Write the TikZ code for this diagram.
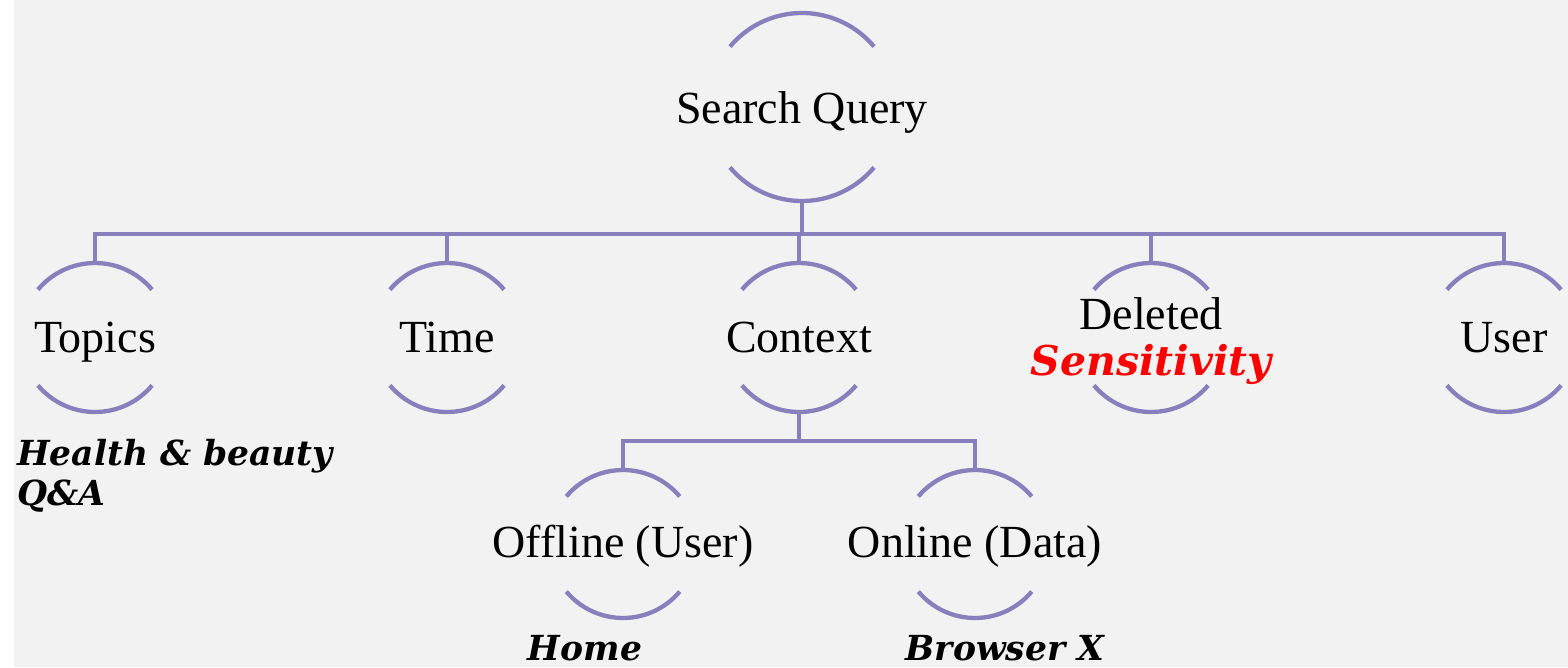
\documentclass[tikz,border=0pt]{standalone}
\usepackage{fontspec}
\setmainfont{Liberation Serif}
\newfontfamily\notefont{DejaVu Serif}
\definecolor{bg}{HTML}{F2F2F2}
\definecolor{arcline}{HTML}{8780BD}
\newcommand\ringarcs[2]{%
  \draw[link] (#1.140) arc[start angle=140,end angle=40,radius=#2pt];
  \draw[link] (#1.220) arc[start angle=220,end angle=320,radius=#2pt];}
\begin{document}
\begin{tikzpicture}[x=1pt,y=-1pt,
  ring/.style={circle,draw=none,inner sep=0pt,outer sep=0pt,minimum size=#1},
  ring/.default=149,
  link/.style={draw=arcline,line width=4.3pt},
  lbl/.style={anchor=base,inner sep=0pt,font=\fontsize{46}{54}\selectfont},
  notestyle/.style={inner sep=0pt,font=\fontsize{34.5}{42}\selectfont\notefont\bfseries\itshape},
]
% background
\fill[white] (0,0) rectangle (1568,667);
\fill[bg] (14,0) rectangle (1568,667);
\useasboundingbox (0,0) rectangle (1568,667);

% ring shapes
\node[ring=188] (sq) at (802,107) {};
\node[ring] (topics) at (95,337.5) {};
\node[ring] (time) at (447,337.5) {};
\node[ring] (context) at (799,337.5) {};
\node[ring] (deleted) at (1151,337.5) {};
\node[ring] (user) at (1504,337.5) {};
\node[ring=148] (offline) at (623,544) {};
\node[ring=148] (online) at (975,544) {};

\ringarcs{sq}{94}
\foreach \n in {topics,time,context,deleted,user}{\ringarcs{\n}{74.5}}
\ringarcs{offline}{74}
\ringarcs{online}{74}

% tree connectors
\coordinate (bus) at (0,234);
\draw[link] (sq.south) -- (sq.south |- bus);
\draw[link] (topics.north) -- (topics.north |- bus) -- (user.north |- bus) -- (user.north);
\foreach \n in {time,context,deleted}{\draw[link] (\n.north |- bus) -- (\n.north);}
\coordinate (bus2) at (0,441);
\draw[link] (context.south) -- (context.south |- bus2);
\draw[link] (offline.north) -- (offline.north |- bus2) -- (online.north |- bus2) -- (online.north);

% labels
\node[lbl] (tsq) at (802,123) {Search Query};
\node[lbl] (ttopics) at (95,352) {Topics};
\node[lbl] (ttime) at (447,352) {Time};
\node[lbl] (tcontext) at (799,352) {Context};
\node[lbl] (tdeleted) at (1151,329) {Deleted};
\node[notestyle,anchor=base,text=red,font=\fontsize{41}{48}\selectfont\notefont\bfseries\itshape] (tsens) at (1151,375) {Sensitivity};
\node[lbl] (tuser) at (1504,352) {User};
\node[lbl] (toffline) at (623,557) {Offline (User)};
\node[lbl] (tonline) at (975,557) {Online (Data)};

% notes
\node[notestyle,anchor=base west] (nhealth) at (17,465) {Health \& beauty};
\node[notestyle,anchor=base west] (nqa) at (17,505) {Q\&A};
\node[notestyle,anchor=base] (nhome) at (585,660) {Home};
\node[notestyle,anchor=base] (nbrowser) at (1005,660) {Browser X};
\end{tikzpicture}
\end{document}
